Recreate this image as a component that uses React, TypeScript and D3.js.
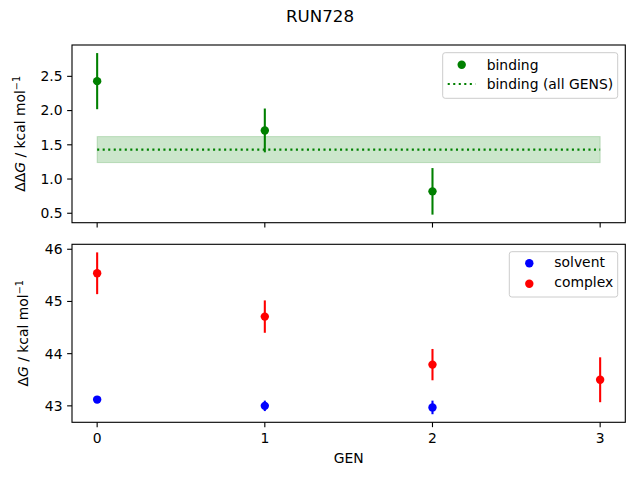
import * as d3 from 'd3';
import React from 'react';

// GEN index for each series
const bindingGens = [0, 1, 2];
const bindingValues = [2.43, 1.71, 0.82];
const bindingErrors = [0.41, 0.32, 0.34];
const bindingAllMean = 1.43;
const bindingAllErr = 0.19;

const solventGens = [0, 1, 2];
const solventValues = [43.12, 43.0, 42.97];
const solventErrors = [0.04, 0.1, 0.13];

const complexGens = [0, 1, 2, 3];
const complexValues = [45.54, 44.71, 43.79, 43.5];
const complexErrors = [0.4, 0.31, 0.3, 0.43];

const genTicks = [0, 1, 2, 3];
const topTicks = [0.5, 1.0, 1.5, 2.0, 2.5];
const bottomTicks = [43, 44, 45, 46];

const FONT = 'DejaVu Sans, sans-serif';
const GREEN = '#008000';
const BLUE = '#0000ff';
const RED = '#ff0000';

const left = 72;
const right = 625.3;
const topPanel = { y0: 45, y1: 222.7 };
const bottomPanel = { y0: 244.3, y1: 422.3 };

// matplotlib-style 5% margins
function padDomain(lo: number, hi: number): [number, number] {
  const r = hi - lo;
  return [lo - r * 0.05, hi + r * 0.05];
}

function YLabel({ x, y, prefix }: { x: number; y: number; prefix: string }) {
  return (
    <text
      transform={`translate(${x},${y}) rotate(-90)`}
      textAnchor="middle"
      fontFamily={FONT}
      fontSize={13.9}
      fill="#000"
    >
      <tspan>{prefix}</tspan>
      <tspan fontStyle="italic">G</tspan>
      <tspan> / kcal mol</tspan>
      <tspan dy={-5} fontSize={9.7}>−1</tspan>
    </text>
  );
}

export default function App() {
  const x = d3.scaleLinear().domain([-0.15, 3.15]).range([left, right]);

  const topLo = d3.min(bindingValues.map((v, i) => v - bindingErrors[i]))!;
  const topHi = d3.max(bindingValues.map((v, i) => v + bindingErrors[i]))!;
  const yTop = d3
    .scaleLinear()
    .domain(padDomain(topLo, topHi))
    .range([topPanel.y1, topPanel.y0]);

  const allLo = d3.min([
    ...solventValues.map((v, i) => v - solventErrors[i]),
    ...complexValues.map((v, i) => v - complexErrors[i])
  ])!;
  const allHi = d3.max([
    ...solventValues.map((v, i) => v + solventErrors[i]),
    ...complexValues.map((v, i) => v + complexErrors[i])
  ])!;
  const yBot = d3
    .scaleLinear()
    .domain(padDomain(allLo, allHi))
    .range([bottomPanel.y1, bottomPanel.y0]);

  const tickLen = 4.86;
  const r = 4.2;

  const errorSeries = (
    gens: number[],
    vals: number[],
    errs: number[],
    y: d3.ScaleLinear<number, number>,
    color: string
  ) =>
    gens.map((g, i) => (
      <g key={`${color}-${i}`}>
        <line
          x1={x(g)}
          x2={x(g)}
          y1={y(vals[i] - errs[i])}
          y2={y(vals[i] + errs[i])}
          stroke={color}
          strokeWidth={2.08}
        />
        <circle cx={x(g)} cy={y(vals[i])} r={r} fill={color} />
      </g>
    ));

  const bandY0 = yTop(bindingAllMean + bindingAllErr);
  const bandY1 = yTop(bindingAllMean - bindingAllErr);

  return (
    <div style={{ position: 'fixed', left: 0, top: 0 }}>
      <svg width={640} height={480} style={{ display: 'block', background: '#fff' }}>
        <text x={320} y={22} textAnchor="middle" fontFamily={FONT} fontSize={16.67}>
          RUN728
        </text>

        {/* top panel */}
        <g>
          <rect
            x={x(0)}
            y={bandY0}
            width={x(3) - x(0)}
            height={bandY1 - bandY0}
            fill={GREEN}
            fillOpacity={0.2}
            stroke={GREEN}
            strokeOpacity={0.2}
          />
          <line
            x1={x(0)}
            x2={x(3)}
            y1={yTop(bindingAllMean)}
            y2={yTop(bindingAllMean)}
            stroke={GREEN}
            strokeWidth={2.08}
            strokeDasharray="2.08 3.44"
          />
          {errorSeries(bindingGens, bindingValues, bindingErrors, yTop, GREEN)}
          <rect
            x={left}
            y={topPanel.y0}
            width={right - left}
            height={topPanel.y1 - topPanel.y0}
            fill="none"
            stroke="#000"
            strokeWidth={1.11}
          />
          {topTicks.map((t) => (
            <g key={t}>
              <line x1={left - tickLen} x2={left} y1={yTop(t)} y2={yTop(t)} stroke="#000" strokeWidth={1.11} />
              <text
                x={left - tickLen - 4.6}
                y={yTop(t)}
                dy="0.35em"
                textAnchor="end"
                fontFamily={FONT}
                fontSize={13.9}
              >
                {t.toFixed(1)}
              </text>
            </g>
          ))}
          {genTicks.map((t) => (
            <line
              key={t}
              x1={x(t)}
              x2={x(t)}
              y1={topPanel.y1}
              y2={topPanel.y1 + tickLen}
              stroke="#000"
              strokeWidth={1.11}
            />
          ))}
          <YLabel x={25} y={(topPanel.y0 + topPanel.y1) / 2} prefix="ΔΔ" />

          {/* legend */}
          <rect
            x={442.7}
            y={52.7}
            width={175}
            height={45.6}
            rx={2.5}
            fill="#fff"
            fillOpacity={0.8}
            stroke="#cccccc"
            strokeWidth={1}
          />
          <circle cx={461.7} cy={64.7} r={r} fill={GREEN} />
          <text x={486.7} y={64.7} dy="0.35em" fontFamily={FONT} fontSize={13.9}>
            binding
          </text>
          <line
            x1={447.7}
            x2={475.5}
            y1={84}
            y2={84}
            stroke={GREEN}
            strokeWidth={2.08}
            strokeDasharray="2.08 3.44"
          />
          <text x={486.7} y={84} dy="0.35em" fontFamily={FONT} fontSize={13.9}>
            binding (all GENS)
          </text>
        </g>

        {/* bottom panel */}
        <g>
          {errorSeries(solventGens, solventValues, solventErrors, yBot, BLUE)}
          {errorSeries(complexGens, complexValues, complexErrors, yBot, RED)}
          <rect
            x={left}
            y={bottomPanel.y0}
            width={right - left}
            height={bottomPanel.y1 - bottomPanel.y0}
            fill="none"
            stroke="#000"
            strokeWidth={1.11}
          />
          {bottomTicks.map((t) => (
            <g key={t}>
              <line x1={left - tickLen} x2={left} y1={yBot(t)} y2={yBot(t)} stroke="#000" strokeWidth={1.11} />
              <text
                x={left - tickLen - 4.6}
                y={yBot(t)}
                dy="0.35em"
                textAnchor="end"
                fontFamily={FONT}
                fontSize={13.9}
              >
                {t}
              </text>
            </g>
          ))}
          {genTicks.map((t) => (
            <g key={t}>
              <line
                x1={x(t)}
                x2={x(t)}
                y1={bottomPanel.y1}
                y2={bottomPanel.y1 + tickLen}
                stroke="#000"
                strokeWidth={1.11}
              />
              <text
                x={x(t)}
                y={bottomPanel.y1 + tickLen + 4.6}
                dy="0.8em"
                textAnchor="middle"
                fontFamily={FONT}
                fontSize={13.9}
              >
                {t}
              </text>
            </g>
          ))}
          <text
            x={(left + right) / 2}
            y={457.7}
            dy="0.35em"
            textAnchor="middle"
            fontFamily={FONT}
            fontSize={13.9}
          >
            GEN
          </text>
          <YLabel x={28} y={(bottomPanel.y0 + bottomPanel.y1) / 2} prefix="Δ" />

          {/* legend */}
          <rect
            x={509.3}
            y={251.7}
            width={108.4}
            height={45.3}
            rx={2.5}
            fill="#fff"
            fillOpacity={0.8}
            stroke="#cccccc"
            strokeWidth={1}
          />
          <circle cx={529.3} cy={263.3} r={r} fill={BLUE} />
          <text x={554.3} y={262} dy="0.35em" fontFamily={FONT} fontSize={13.9}>
            solvent
          </text>
          <circle cx={529.3} cy={283.7} r={r} fill={RED} />
          <text x={554.3} y={282.5} dy="0.35em" fontFamily={FONT} fontSize={13.9}>
            complex
          </text>
        </g>
      </svg>
    </div>
  );
}
